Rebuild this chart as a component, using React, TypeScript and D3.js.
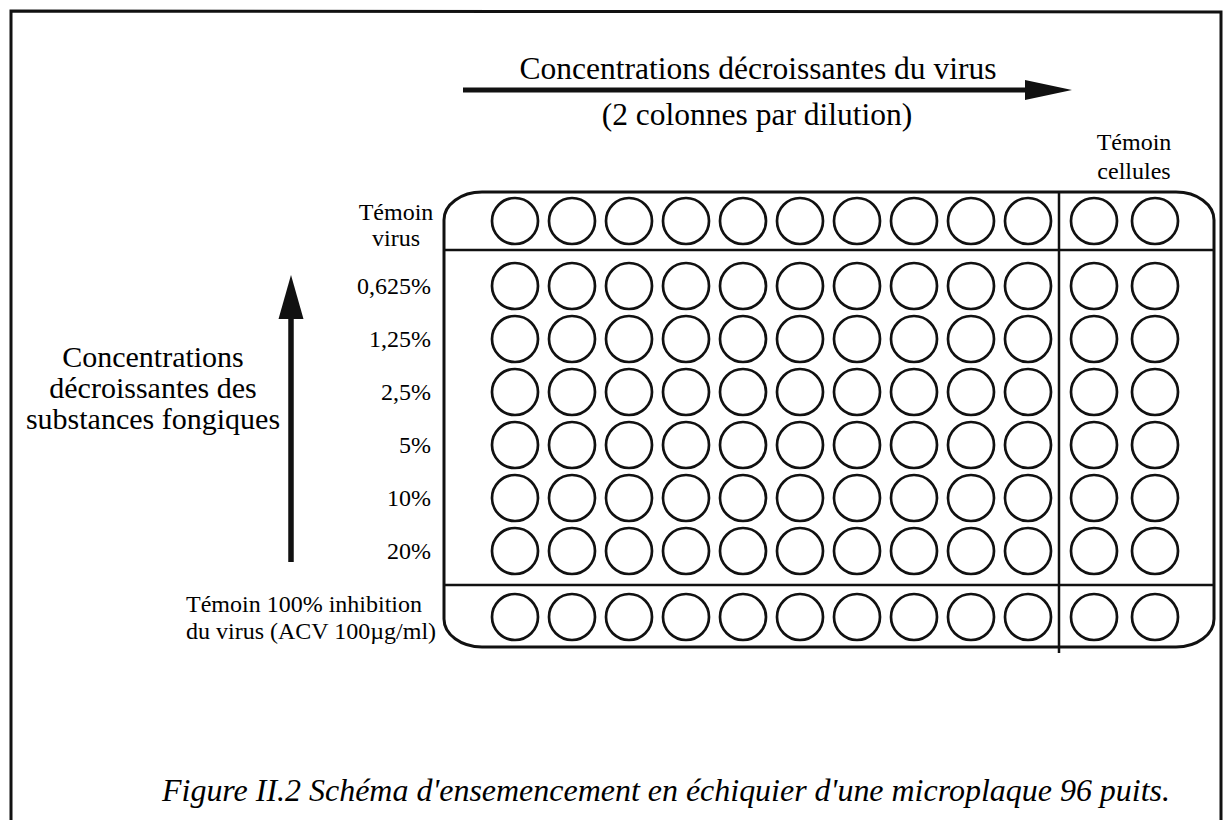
import React from "react";
import { useEffect, useRef } from "react";
import * as d3 from "d3";

// plate layout data
const dilutionColumns = [1, 2, 3, 4, 5, 6, 7, 8, 9, 10];
const cellControlColumns = [11, 12];
const concentrations = ["0,625%", "1,25%", "2,5%", "5%", "10%", "20%"];
const virusControlLabel = ["Témoin", "virus"];
const inhibitionLabel = ["Témoin 100% inhibition", "du virus (ACV 100µg/ml)"];
const cellControlLabel = ["Témoin", "cellules"];
const leftTitle = ["Concentrations", "décroissantes des", "substances fongiques"];
const topTitle = "Concentrations décroissantes du virus";
const topSubtitle = "(2 colonnes par dilution)";
const caption = "Figure II.2 Schéma d'ensemencement en échiquier d'une microplaque 96 puits.";

const FONT = "'Liberation Serif', 'Times New Roman', serif";

const App = () => {
  const svgRef = useRef<SVGSVGElement | null>(null);

  useEffect(() => {
    const w = 1223;
    const h = 820;
    const svg = d3.select(svgRef.current).attr("width", w).attr("height", h).style("background", "#FFFFFF");
    svg.selectAll("*").remove();

    // outer frame (left, top, right)
    svg
      .append("path")
      .attr("d", "M11,820 L11,11 L1221,12 L1221,820")
      .attr("fill", "none")
      .attr("stroke", "#111")
      .attr("stroke-width", 3);

    // scales for wells
    const xDil = d3.scalePoint<number>().domain(dilutionColumns).range([515, 1028]);
    const xCtrl = d3.scalePoint<number>().domain(cellControlColumns).range([1094, 1155]);
    const xWell = (c: number) => (c <= 10 ? (xDil(c) as number) : (xCtrl(c) as number));
    const yConc = d3.scalePoint<string>().domain(concentrations).range([286, 551]);
    const yTop = 221;
    const yBottom = 617;
    const rows = [yTop, ...concentrations.map((c) => yConc(c) as number), yBottom];
    const allCols = [...dilutionColumns, ...cellControlColumns];

    // plate outline
    const px0 = 444, px1 = 1214, py0 = 192, py1 = 647;
    svg
      .append("rect")
      .attr("x", px0)
      .attr("y", py0)
      .attr("width", px1 - px0)
      .attr("height", py1 - py0)
      .attr("rx", 38)
      .attr("ry", 28)
      .attr("fill", "none")
      .attr("stroke", "#111")
      .attr("stroke-width", 3);

    // separators
    svg.append("line").attr("x1", px0).attr("x2", px1).attr("y1", 250).attr("y2", 250)
      .attr("stroke", "#111").attr("stroke-width", 2.5);
    svg.append("line").attr("x1", px0).attr("x2", px1).attr("y1", 585).attr("y2", 585)
      .attr("stroke", "#111").attr("stroke-width", 2.5);
    svg.append("line").attr("x1", 1059).attr("x2", 1059).attr("y1", py0).attr("y2", 653)
      .attr("stroke", "#111").attr("stroke-width", 2.5);

    // wells
    const wells = rows.flatMap((y) => allCols.map((c) => ({ x: xWell(c), y })));
    svg
      .selectAll(".well")
      .data(wells)
      .join("circle")
      .attr("class", "well")
      .attr("cx", (d) => d.x)
      .attr("cy", (d) => d.y)
      .attr("r", 23)
      .attr("fill", "none")
      .attr("stroke", "#111")
      .attr("stroke-width", 2.7);

    // row labels
    svg
      .selectAll(".conc")
      .data(concentrations)
      .join("text")
      .attr("class", "conc")
      .attr("x", 431)
      .attr("y", (d) => (yConc(d) as number) + 8)
      .attr("text-anchor", "end")
      .style("font-family", FONT)
      .style("font-size", "24px")
      .text((d) => d);

    svg
      .selectAll(".vlab")
      .data(virusControlLabel)
      .join("text")
      .attr("class", "vlab")
      .attr("x", 396)
      .attr("y", (d, i) => 220 + i * 26)
      .attr("text-anchor", "middle")
      .style("font-family", FONT)
      .style("font-size", "24px")
      .text((d) => d);

    svg
      .selectAll(".ilab")
      .data(inhibitionLabel)
      .join("text")
      .attr("class", "ilab")
      .attr("x", 186)
      .attr("y", (d, i) => 612 + i * 27)
      .style("font-family", FONT)
      .style("font-size", "24px")
      .text((d) => d);

    svg
      .selectAll(".clab")
      .data(cellControlLabel)
      .join("text")
      .attr("class", "clab")
      .attr("x", 1134)
      .attr("y", (d, i) => 150 + i * 29)
      .attr("text-anchor", "middle")
      .style("font-family", FONT)
      .style("font-size", "24px")
      .text((d) => d);

    // left title + vertical arrow
    svg
      .selectAll(".ltitle")
      .data(leftTitle)
      .join("text")
      .attr("class", "ltitle")
      .attr("x", 153)
      .attr("y", (d, i) => 367 + i * 31)
      .attr("text-anchor", "middle")
      .style("font-family", FONT)
      .style("font-size", "30px")
      .text((d) => d);

    svg.append("line").attr("x1", 291).attr("x2", 291).attr("y1", 562).attr("y2", 312)
      .attr("stroke", "#111").attr("stroke-width", 5.5);
    svg.append("path").attr("d", "M291,275 L303.5,319 L278.5,319 Z").attr("fill", "#111");

    // top title + horizontal arrow
    svg
      .append("text")
      .attr("x", 758)
      .attr("y", 79)
      .attr("text-anchor", "middle")
      .style("font-family", FONT)
      .style("font-size", "31.5px")
      .text(topTitle);

    svg.append("line").attr("x1", 463).attr("x2", 1030).attr("y1", 90).attr("y2", 90)
      .attr("stroke", "#111").attr("stroke-width", 5);
    svg.append("path").attr("d", "M1025,80 L1072,90 L1025,100 Z").attr("fill", "#111");

    svg
      .append("text")
      .attr("x", 757)
      .attr("y", 125)
      .attr("text-anchor", "middle")
      .style("font-family", FONT)
      .style("font-size", "31.5px")
      .text(topSubtitle);

    // caption
    svg
      .append("text")
      .attr("x", 162)
      .attr("y", 801)
      .attr("textLength", 1008)
      .attr("lengthAdjust", "spacingAndGlyphs")
      .style("font-family", FONT)
      .style("font-style", "italic")
      .style("font-size", "31px")
      .text(caption);
  }, []);

  return (
    <div>
      <svg ref={svgRef} style={{ position: "absolute", left: 0, top: 0, display: "block" }}></svg>
    </div>
  );
};

export default App;
